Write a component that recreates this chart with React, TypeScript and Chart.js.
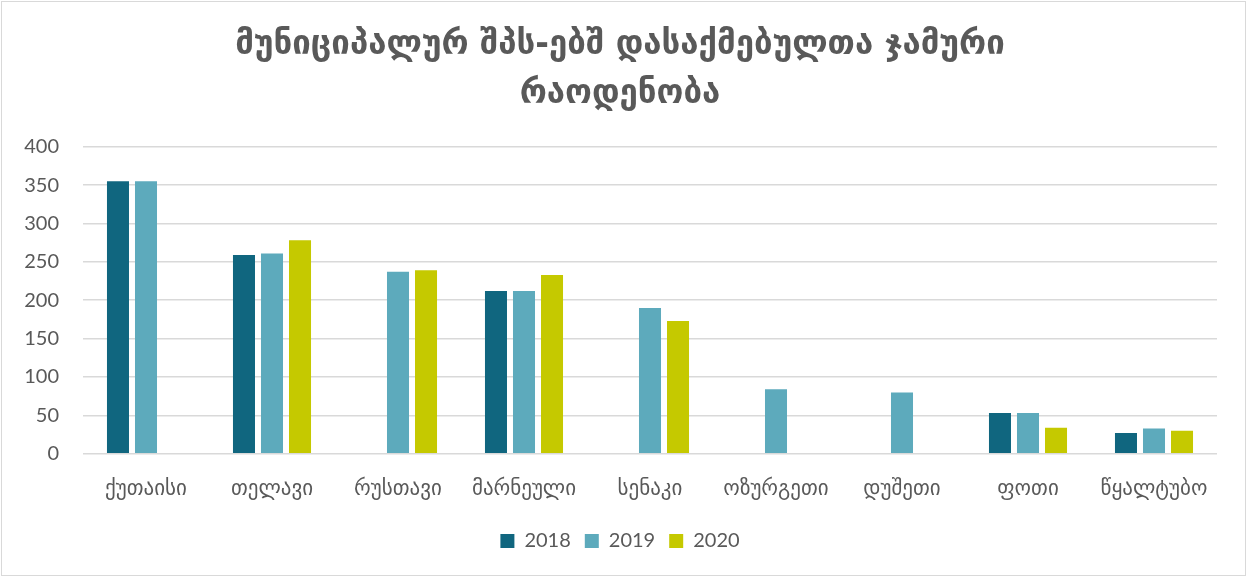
import React, { useEffect, useRef } from "react";
import { Chart, registerables } from "chart.js";

Chart.register(...registerables);

const categories = ["ქუთაისი", "თელავი", "რუსთავი", "მარნეული", "სენაკი", "ოზურგეთი", "დუშეთი", "ფოთი", "წყალტუბო"];
const values2018: (number | null)[] = [355, 259, null, 212, null, null, null, 53, 27];
const values2019: (number | null)[] = [355, 261, 237, 212, 190, 84, 80, 53, 33];
const values2020: (number | null)[] = [null, 278, 239, 233, 173, null, null, 34, 30];
const seriesLabels = ["2018", "2019", "2020"];
const titleLines = ["მუნიციპალურ შპს-ებშ დასაქმებულთა ჯამური", "რაოდენობა"];

const FONT = "Lato, 'DejaVu Sans', sans-serif";
const GEO = "'DejaVu Sans', sans-serif";
const TEXT = "#595959";

export default function App() {
  const ref = useRef<HTMLCanvasElement | null>(null);
  useEffect(() => {
    document.body.style.margin = "0";
    const ctx = ref.current!;
    const chart = new Chart(ctx, {
      type: "bar",
      data: {
        labels: categories,
        datasets: [
          { label: seriesLabels[0], data: values2018, backgroundColor: "#10667F" },
          { label: seriesLabels[1], data: values2019, backgroundColor: "#5DAABC" },
          { label: seriesLabels[2], data: values2020, backgroundColor: "#C5C900" },
        ],
      },
      options: {
        responsive: false,
        animation: false,
        devicePixelRatio: 1,
        layout: { padding: { left: 21, right: 28, top: 19, bottom: 14 } },
        datasets: { bar: { categoryPercentage: 0.667, barPercentage: 0.786 } },
        plugins: {
          title: {
            display: true,
            text: titleLines,
            color: TEXT,
            font: { family: GEO, size: 33, weight: "bold", lineHeight: 1.48 },
            padding: { top: 0, bottom: 28 },
          },
          legend: {
            position: "bottom",
            labels: {
              color: TEXT,
              font: { family: FONT, size: 20 },
              boxWidth: 14,
              boxHeight: 14,
              padding: 14,
            },
          },
          tooltip: { enabled: false },
        },
        scales: {
          x: {
            grid: { display: false },
            border: { display: false },
            ticks: { color: TEXT, font: { family: GEO, size: 21 }, padding: 15, maxRotation: 0 },
          },
          y: {
            min: 0,
            max: 400,
            afterFit: (axis: any) => { axis.width = 60; },
            ticks: { stepSize: 50, color: TEXT, font: { family: FONT, size: 20 }, padding: 24 },
            grid: { color: "#D9D9D9", lineWidth: 1.5, drawTicks: false },
            border: { display: false },
          },
        },
      },
    });
    return () => chart.destroy();
  }, []);
  return (
    <div style={{ width: 1243, height: 573, margin: 1, border: "1px solid #D9D9D9", background: "#fff" }}>
      <canvas ref={ref} width={1243} height={573} />
    </div>
  );
}
